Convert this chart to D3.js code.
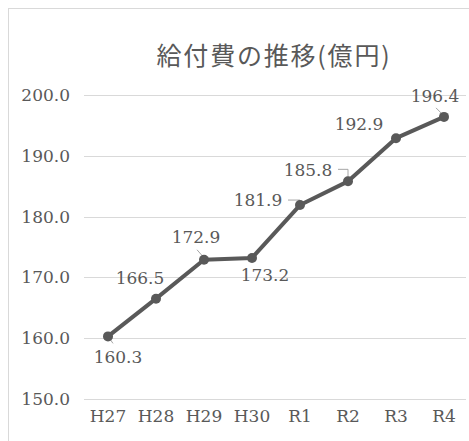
<!DOCTYPE html>
<html>
<head>
<meta charset="utf-8">
<script src="https://cdn.jsdelivr.net/npm/d3@7"></script>
<style>
  html, body { margin: 0; padding: 0; background: #fff; }
  svg { display: block; }
</style>
</head>
<body>
<svg id="chart" width="469" height="441"></svg>
<script>
const title = "給付費の推移(億円)";
const categories = ["H27", "H28", "H29", "H30", "R1", "R2", "R3", "R4"];
const values = [160.3, 166.5, 172.9, 173.2, 181.9, 185.8, 192.9, 196.4];
const yTicks = [150, 160, 170, 180, 190, 200];

const svg = d3.select("#chart");
const W = 469, H = 441;
const gray = "#595959";
const serif = "'DejaVu Serif', serif";

// chart frame
svg.append("rect").attr("x", 8.5).attr("y", 8.5).attr("width", W + 20).attr("height", H + 20)
  .attr("fill", "#fff").attr("stroke", "#d9d9d9").attr("stroke-width", 1);

const x = d3.scaleBand().domain(categories).range([84, 468]);
const y = d3.scaleLinear().domain([150, 200]).range([399, 95]);

// gridlines
svg.append("g").selectAll("line").data(yTicks).join("line")
  .attr("x1", 84).attr("x2", 466)
  .attr("y1", d => Math.round(y(d)) + 0.5).attr("y2", d => Math.round(y(d)) + 0.5)
  .attr("stroke", "#d9d9d9").attr("stroke-width", 1);

// y axis labels
const yAxis = d3.axisLeft(y).tickValues(yTicks).tickFormat(d3.format(".1f")).tickSize(0).tickPadding(0);
const gy = svg.append("g").attr("transform", "translate(70,0)").call(yAxis);
gy.select(".domain").remove();
gy.selectAll("text").attr("font-family", serif).attr("font-size", 17).attr("fill", gray);

// x axis labels
const xAxis = d3.axisBottom(x).tickSize(0).tickPadding(0);
const gx = svg.append("g").attr("transform", "translate(0,410)").call(xAxis);
gx.select(".domain").remove();
gx.selectAll("text").attr("font-family", serif).attr("font-size", 17).attr("fill", gray);

// title
svg.append("text").attr("x", 274).attr("y", 54).attr("text-anchor", "middle")
  .attr("dominant-baseline", "central")
  .attr("font-family", "'Noto Sans CJK JP', sans-serif").attr("font-size", 25)
  .attr("letter-spacing", 1.8)
  .attr("fill", gray).text(title);

const cx = d => x(d) + x.bandwidth() / 2;
const pts = categories.map((c, i) => [cx(c), y(values[i])]);

// leader lines for labels
const leaders = [
  [[0, 0], [5, 7]],
  null,
  [[-7, -10], [0, -2]],
  null,
  [[-12, -5], [0, -5], [0, 0]],
  [[-10, -12], [0, -12], [0, -1]],
  null,
  [[-8, -9], [-1, -2]]
];
const lg = svg.append("g");
leaders.forEach((l, i) => {
  if (!l) return;
  lg.append("path")
    .attr("d", d3.line()(l.map(p => [pts[i][0] + p[0], pts[i][1] + p[1]])))
    .attr("fill", "none").attr("stroke", "#a6a6a6").attr("stroke-width", 1);
});

// line
svg.append("path").datum(values)
  .attr("d", d3.line().x((d, i) => cx(categories[i])).y(d => y(d)))
  .attr("fill", "none").attr("stroke", gray).attr("stroke-width", 4)
  .attr("stroke-linejoin", "round");

// markers
svg.append("g").selectAll("circle").data(values).join("circle")
  .attr("cx", (d, i) => cx(categories[i])).attr("cy", d => y(d)).attr("r", 5)
  .attr("fill", gray);

// data labels
const offsets = [[10, 21], [-16, -21], [-8, -23], [13, 17], [-42, -5], [-40, -11], [-37, -14], [-9, -21]];
svg.append("g").selectAll("text").data(values).join("text")
  .attr("x", (d, i) => pts[i][0] + offsets[i][0])
  .attr("y", (d, i) => pts[i][1] + offsets[i][1])
  .attr("text-anchor", "middle").attr("dominant-baseline", "central")
  .attr("font-family", serif).attr("font-size", 17).attr("fill", gray)
  .text(d => d3.format(".1f")(d));
</script>
</body>
</html>
